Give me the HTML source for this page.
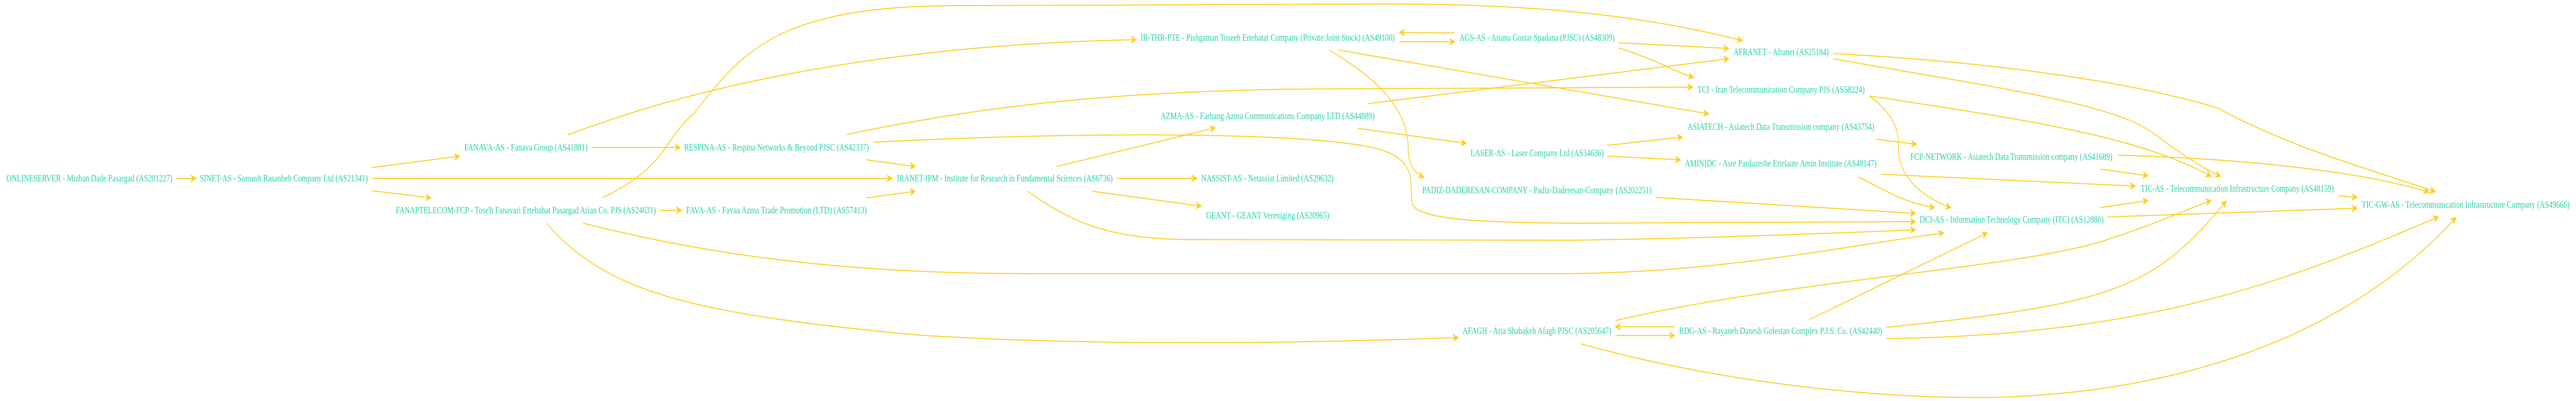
<!DOCTYPE html>
<html><head><meta charset="utf-8"><style>
html,body{margin:0;padding:0;background:#fff;overflow:hidden;}
svg{display:block;width:100vw;height:100vh;}
text{font-family:"Liberation Serif",serif;font-size:19px;fill:#1fcfa7;}
path{fill:none;stroke:#fdcf22;stroke-width:2;}
</style></head><body>
<svg viewBox="0 0 6457 778" preserveAspectRatio="none" xmlns="http://www.w3.org/2000/svg" overflow="hidden">
<defs>
<marker id="a" markerUnits="userSpaceOnUse" markerWidth="16" markerHeight="14" refX="13" refY="7" orient="auto">
<path d="M0,0 L14,7 L0,14 L5,7 z" style="fill:#fdcf22;stroke:#fdcf22;stroke-width:1"/>
</marker>
</defs>
<g marker-end="url(#a)">
<path d="M443,346 L491,346"/>
<path d="M933,325 L1152,303"/>
<path d="M933,346 L2236,346"/>
<path d="M933,370 L1080,384"/>
<path d="M1483,286 L1705,286"/>
<path d="M1423,262 C1800,150 2300,85 2848,77"/>
<path d="M1510,384 C1680,320 1660,270 1740,220 C1860,100 1950,11 2400,11 L3400,8 C3800,5 4100,25 4367,79"/>
<path d="M1655,408 L1708,408"/>
<path d="M1462,433 C1900,520 2300,531 2600,531 L3900,531 C4300,531 4600,480 4872,452"/>
<path d="M1370,433 C1520,570 1750,610 2300,650 C2700,670 3200,668 3655,655"/>
<path d="M2122,261 C2500,200 2800,180 3220,173 L4243,169"/>
<path d="M2189,276 C2700,255 3300,255 3460,290 C3560,315 3530,360 3540,395 C3550,425 3700,432 3950,433 L4801,430"/>
<path d="M2171,310 L2294,323"/>
<path d="M2171,384 L2294,371"/>
<path d="M2800,346 L3000,346"/>
<path d="M2649,323 L3046,248"/>
<path d="M2738,371 L3011,400"/>
<path d="M2576,371 C2700,440 2800,465 3000,465 L3950,466 C4300,462 4600,452 4801,446"/>
<path d="M3646,64 L3508,63"/>
<path d="M3508,81 L3646,81"/>
<path d="M3355,97 L4283,221"/>
<path d="M3332,97 C3470,160 3530,220 3530,290 C3530,320 3545,335 3569,344"/>
<path d="M4057,83 L4333,94"/>
<path d="M4057,93 C4150,115 4200,140 4245,150"/>
<path d="M3430,201 L4333,114"/>
<path d="M3403,249 L3675,278"/>
<path d="M4029,282 L4217,266"/>
<path d="M4029,303 L4212,310"/>
<path d="M4150,383 L4801,414"/>
<path d="M4595,104 C5000,120 5350,160 5560,210 C5750,290 5950,330 6104,372"/>
<path d="M4595,114 C5000,170 5300,200 5400,260 C5470,300 5530,330 5566,342"/>
<path d="M4686,186 C5050,230 5350,260 5542,342"/>
<path d="M4686,186 C4760,230 4758,260 4759,290 C4760,350 4830,385 4890,403"/>
<path d="M4702,270 L4804,280"/>
<path d="M4657,343 C4730,370 4760,390 4849,403"/>
<path d="M4715,338 L5352,361"/>
<path d="M5264,328 L5384,341"/>
<path d="M5308,301 C5700,310 5950,340 6088,373"/>
<path d="M5264,403 L5384,389"/>
<path d="M5282,421 L5908,404"/>
<path d="M5862,380 L5908,383"/>
<path d="M4197,634 L4049,634"/>
<path d="M4049,651 L4197,651"/>
<path d="M4049,622 C4500,540 5100,520 5300,460 C5420,430 5500,400 5542,389"/>
<path d="M4536,620 L4981,452"/>
<path d="M3962,667 C4300,740 4700,775 5000,771 C5500,760 5900,640 6156,422"/>
<path d="M4729,635 C5300,590 5400,560 5580,390"/>
<path d="M4729,657 C5400,650 5750,540 6112,421"/>
</g>
<g>
<text x="16" y="352" textLength="416" lengthAdjust="spacingAndGlyphs">ONLINESERVER - Mizban Dade Pasargad (AS201227)</text>
<text x="501" y="352" textLength="421" lengthAdjust="spacingAndGlyphs">SINET-AS - Soroush Rasanheh Company Ltd (AS21341)</text>
<text x="1164" y="292" textLength="309" lengthAdjust="spacingAndGlyphs">FANAVA-AS - Fanava Group (AS41881)</text>
<text x="992" y="414" textLength="652" lengthAdjust="spacingAndGlyphs">FANAPTELECOM-FCP - Tose'h Fanavari Ertebabat Pasargad Arian Co. PJS (AS24631)</text>
<text x="1715" y="292" textLength="463" lengthAdjust="spacingAndGlyphs">RESPINA-AS - Respina Networks &amp; Beyond PJSC (AS42337)</text>
<text x="1720" y="414" textLength="453" lengthAdjust="spacingAndGlyphs">FAVA-AS - Favaa Azma Trade Promotion (LTD) (AS57413)</text>
<text x="2248" y="352" textLength="541" lengthAdjust="spacingAndGlyphs">IRANET-IPM - Institute for Research in Fundamental Sciences (AS6736)</text>
<text x="3011" y="352" textLength="332" lengthAdjust="spacingAndGlyphs">NASSIST-AS - Netassist Limited (AS29632)</text>
<text x="2859" y="79" textLength="637" lengthAdjust="spacingAndGlyphs">IR-THR-PTE - Pishgaman Toseeh Ertebatat Company (Private Joint Stock) (AS49100)</text>
<text x="2909" y="231" textLength="537" lengthAdjust="spacingAndGlyphs">AZMA-AS - Farhang Azma Communications Company LTD (AS44889)</text>
<text x="3023" y="424" textLength="309" lengthAdjust="spacingAndGlyphs">GEANT - GEANT Vereniging (AS20965)</text>
<text x="3658" y="79" textLength="389" lengthAdjust="spacingAndGlyphs">AGS-AS - Ariana Gostar Spadana (PJSC) (AS48309)</text>
<text x="4345" y="107" textLength="239" lengthAdjust="spacingAndGlyphs">AFRANET - Afranet (AS25184)</text>
<text x="4255" y="180" textLength="419" lengthAdjust="spacingAndGlyphs">TCI - Iran Telecommunication Company PJS (AS58224)</text>
<text x="4230" y="252" textLength="468" lengthAdjust="spacingAndGlyphs">ASIATECH - Asiatech Data Transmission company (AS43754)</text>
<text x="3686" y="303" textLength="334" lengthAdjust="spacingAndGlyphs">LASER-AS - Laser Company Ltd (AS34636)</text>
<text x="4223" y="323" textLength="481" lengthAdjust="spacingAndGlyphs">AMINIDC - Asre Pardazeshe Ettelaate Amin Institute (AS48147)</text>
<text x="3565" y="375" textLength="575" lengthAdjust="spacingAndGlyphs">PADIZ-DADERESAN-COMPANY - Padiz-Daderesan-Company (AS202251)</text>
<text x="3666" y="648" textLength="373" lengthAdjust="spacingAndGlyphs">AFAGH - Aria Shabakeh Afagh PJSC (AS205647)</text>
<text x="4209" y="648" textLength="509" lengthAdjust="spacingAndGlyphs">RDG-AS - Rayaneh Danesh Golestan Complex P.J.S. Co. (AS42440)</text>
<text x="4788" y="310" textLength="507" lengthAdjust="spacingAndGlyphs">FCP-NETWORK - Asiatech Data Transmission company (AS41689)</text>
<text x="4812" y="432" textLength="461" lengthAdjust="spacingAndGlyphs">DCI-AS - Information Technology Company (ITC) (AS12880)</text>
<text x="5366" y="372" textLength="484" lengthAdjust="spacingAndGlyphs">TIC-AS - Telecommunication Infrastructure Company (AS48159)</text>
<text x="5920" y="403" textLength="521" lengthAdjust="spacingAndGlyphs">TIC-GW-AS - Telecommunication Infrastructure Company (AS49666)</text>
</g>
</svg>
</body></html>
